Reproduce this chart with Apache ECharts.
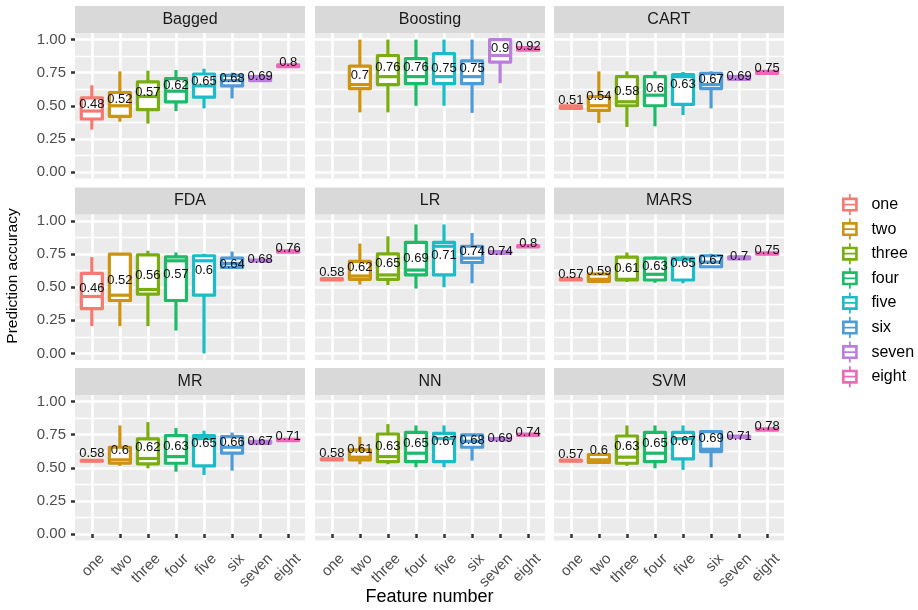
<!DOCTYPE html>
<html>
<head>
<meta charset="utf-8">
<script src="https://cdn.jsdelivr.net/npm/echarts@6/dist/echarts.min.js"></script>
<style>
  html, body { margin: 0; padding: 0; background: #ffffff; }
  #chart { width: 918px; height: 610px; }
</style>
</head>
<body>
<div id="chart"></div>
<script>
// Feature-count categories and the classifiers (one facet each)
const features = ['one', 'two', 'three', 'four', 'five', 'six', 'seven', 'eight'];
const methods = ['Bagged', 'Boosting', 'CART', 'FDA', 'LR', 'MARS', 'MR', 'NN', 'SVM'];
const yTicks = [0, 0.25, 0.5, 0.75, 1];
const yMinorTicks = [0.125, 0.375, 0.625, 0.875];

// Box statistics per feature: [lower whisker, Q1, median, Q3, upper whisker]
const boxBagged = [[0.32, 0.40, 0.46, 0.56, 0.655], [0.38, 0.42, 0.50, 0.60, 0.76], [0.365, 0.47, 0.57, 0.68, 0.765], [0.46, 0.53, 0.61, 0.705, 0.77], [0.48, 0.565, 0.65, 0.74, 0.78], [0.555, 0.65, 0.69, 0.73, 0.75], [0.69, 0.69, 0.70, 0.72, 0.72], [0.79, 0.795, 0.80, 0.81, 0.82]];
const boxBoosting = [null, [0.45, 0.63, 0.66, 0.80, 1.0], [0.45, 0.66, 0.72, 0.88, 1.0], [0.50, 0.667, 0.72, 0.856, 1.0], [0.50, 0.667, 0.72, 0.894, 1.0], [0.446, 0.667, 0.72, 0.84, 1.0], [0.67, 0.83, 0.88, 1.0, 1.0], [0.92, 0.92, 0.93, 0.94, 0.94]];
const boxCART = [[0.48, 0.48, 0.49, 0.50, 0.50], [0.37, 0.465, 0.50, 0.57, 0.76], [0.34, 0.50, 0.53, 0.72, 0.76], [0.345, 0.50, 0.58, 0.72, 0.76], [0.43, 0.51, 0.72, 0.735, 0.755], [0.48, 0.63, 0.66, 0.745, 0.76], [0.70, 0.70, 0.71, 0.72, 0.72], [0.74, 0.745, 0.75, 0.76, 0.76]];
const boxFDA = [[0.206, 0.338, 0.43, 0.605, 0.728], [0.206, 0.40, 0.44, 0.75, 0.753], [0.206, 0.448, 0.483, 0.745, 0.776], [0.173, 0.40, 0.70, 0.73, 0.763], [0.0, 0.44, 0.70, 0.738, 0.753], [0.64, 0.65, 0.68, 0.72, 0.77], [0.695, 0.70, 0.70, 0.705, 0.71], [0.76, 0.765, 0.77, 0.775, 0.78]];
const boxLR = [[0.55, 0.555, 0.56, 0.565, 0.57], [0.52, 0.56, 0.585, 0.695, 0.83], [0.517, 0.56, 0.593, 0.753, 0.885], [0.49, 0.593, 0.63, 0.84, 0.975], [0.50, 0.593, 0.81, 0.84, 0.975], [0.53, 0.687, 0.72, 0.81, 0.91], [0.75, 0.755, 0.76, 0.77, 0.775], [0.80, 0.805, 0.81, 0.815, 0.82]];
const boxMARS = [[0.555, 0.555, 0.56, 0.565, 0.57], [0.54, 0.545, 0.56, 0.60, 0.61], [0.54, 0.555, 0.56, 0.728, 0.763], [0.534, 0.555, 0.598, 0.72, 0.733], [0.53, 0.555, 0.71, 0.72, 0.738], [0.65, 0.655, 0.69, 0.738, 0.753], [0.71, 0.715, 0.72, 0.73, 0.735], [0.75, 0.75, 0.755, 0.76, 0.765]];
const boxMR = [[0.545, 0.55, 0.553, 0.556, 0.56], [0.514, 0.534, 0.56, 0.655, 0.82], [0.496, 0.53, 0.57, 0.718, 0.845], [0.47, 0.534, 0.584, 0.743, 0.80], [0.446, 0.514, 0.72, 0.743, 0.78], [0.478, 0.61, 0.655, 0.735, 0.766], [0.68, 0.685, 0.69, 0.70, 0.70], [0.70, 0.705, 0.71, 0.715, 0.72]];
const boxNN = [[0.555, 0.56, 0.564, 0.568, 0.572], [0.526, 0.56, 0.58, 0.635, 0.735], [0.526, 0.547, 0.584, 0.755, 0.83], [0.504, 0.547, 0.61, 0.768, 0.82], [0.504, 0.547, 0.72, 0.76, 0.82], [0.554, 0.655, 0.70, 0.748, 0.756], [0.705, 0.71, 0.715, 0.72, 0.725], [0.74, 0.745, 0.748, 0.755, 0.76]];
const boxSVM = [[0.545, 0.55, 0.554, 0.558, 0.562], [0.534, 0.54, 0.56, 0.60, 0.61], [0.514, 0.534, 0.58, 0.74, 0.82], [0.496, 0.547, 0.61, 0.768, 0.82], [0.484, 0.567, 0.72, 0.768, 0.82], [0.504, 0.622, 0.64, 0.773, 0.786], [0.725, 0.73, 0.735, 0.74, 0.745], [0.78, 0.785, 0.79, 0.795, 0.80]];

// Mean accuracy per feature (printed above each box)
const meanBagged = [0.48, 0.52, 0.57, 0.62, 0.65, 0.68, 0.69, 0.8];
const meanBoosting = [null, 0.7, 0.76, 0.76, 0.75, 0.75, 0.9, 0.92];
const meanCART = [0.51, 0.54, 0.58, 0.6, 0.63, 0.67, 0.69, 0.75];
const meanFDA = [0.46, 0.52, 0.56, 0.57, 0.6, 0.64, 0.68, 0.76];
const meanLR = [0.58, 0.62, 0.65, 0.69, 0.71, 0.74, 0.74, 0.8];
const meanMARS = [0.57, 0.59, 0.61, 0.63, 0.65, 0.67, 0.7, 0.75];
const meanMR = [0.58, 0.6, 0.62, 0.63, 0.65, 0.66, 0.67, 0.71];
const meanNN = [0.58, 0.61, 0.63, 0.65, 0.67, 0.68, 0.69, 0.74];
const meanSVM = [0.57, 0.6, 0.63, 0.65, 0.67, 0.69, 0.71, 0.78];

const boxStats = [boxBagged, boxBoosting, boxCART, boxFDA, boxLR, boxMARS, boxMR, boxNN, boxSVM];
const meanStats = [meanBagged, meanBoosting, meanCART, meanFDA, meanLR, meanMARS, meanMR, meanNN, meanSVM];

const palette = ['#F47A72', '#CC9410', '#7AAD12', '#1DBA6A', '#1CBCC6', '#4E9BD6', '#BB7EDC', '#EC68B8'];

// Facet layout (pixels)
const LAYOUT = { colLeft: [75, 315, 554], rowTop: [33, 214.5, 395], panelW: 230, panelH: 145.5, stripH: 27 };
const X_MIN = 0.4, X_MAX = 8.6;
const LABEL_SHIFT = 0.36;   // rotated tick labels hang right of their tick (hjust = 1, vjust = 1)
const BOX_WIDTH = 0.75;
const LINE_W = 3.2;
const FONT = '"Liberation Sans", Arial, Helvetica, sans-serif';
const tickPos = features.map((f, i) => i + 1);

function renderBox(params, api) {
  const x = api.value(0);
  const lo = api.coord([x, api.value(1)]);
  const q1 = api.coord([x, api.value(2)]);
  const med = api.coord([x, api.value(3)]);
  const q3 = api.coord([x, api.value(4)]);
  const hi = api.coord([x, api.value(5)]);
  const w = api.size([BOX_WIDTH, 0])[0];
  const color = api.visual('color');
  const stroke = { stroke: color, lineWidth: LINE_W, lineJoin: 'round', fill: null };
  return {
    type: 'group',
    children: [
      { type: 'line', shape: { x1: hi[0], y1: hi[1], x2: q3[0], y2: q3[1] }, style: stroke },
      { type: 'line', shape: { x1: q1[0], y1: q1[1], x2: lo[0], y2: lo[1] }, style: stroke },
      { type: 'rect', shape: { x: q3[0] - w / 2, y: q3[1], width: w, height: q1[1] - q3[1] },
        style: Object.assign({}, stroke, { fill: '#ffffff' }) },
      { type: 'line', shape: { x1: med[0] - w / 2, y1: med[1], x2: med[0] + w / 2, y2: med[1] }, style: stroke }
    ]
  };
}

function renderMeanLabel(params, api) {
  const p = api.coord([api.value(0), api.value(1)]);
  return {
    type: 'text',
    x: p[0],
    y: p[1] - 4,
    style: {
      text: String(api.value(1)),
      fill: '#111111',
      fontSize: 13,
      fontFamily: FONT,
      align: 'center',
      verticalAlign: 'middle'
    }
  };
}

const grid = [], xAxis = [], yAxis = [], series = [], graphic = [];

methods.forEach((name, i) => {
  const r = Math.floor(i / 3), c = i % 3;
  grid.push({
    left: LAYOUT.colLeft[c], top: LAYOUT.rowTop[r], width: LAYOUT.panelW, height: LAYOUT.panelH,
    show: true, backgroundColor: '#EBEBEB', borderWidth: 0,
    containLabel: false, outerBoundsMode: 'none'
  });
});

// x axes: index i = data axis of facet i; extra label-only axes for the bottom row
methods.forEach((name, i) => {
  const bottomRow = Math.floor(i / 3) === 2;
  xAxis.push({
    gridIndex: i, type: 'value', min: X_MIN, max: X_MAX, position: 'bottom',
    axisLine: { show: false },
    axisTick: { show: bottomRow, customValues: tickPos, length: 4, lineStyle: { color: '#333333', width: 2.5 } },
    axisLabel: { show: false, customValues: tickPos },
    splitLine: { show: true, lineStyle: { color: '#ffffff', width: 2.6 } }
  });
});
methods.forEach((name, i) => {
  if (Math.floor(i / 3) !== 2) return;
  xAxis.push({
    gridIndex: i, type: 'value', min: X_MIN - LABEL_SHIFT, max: X_MAX - LABEL_SHIFT, position: 'bottom',
    axisLine: { show: false },
    axisTick: { show: false, customValues: tickPos },
    axisLabel: {
      show: true, customValues: tickPos, rotate: 45, margin: 16,
      formatter: v => features[Math.round(v) - 1],
      color: '#4D4D4D', fontSize: 15, fontFamily: FONT
    },
    splitLine: { show: false }
  });
});

methods.forEach((name, i) => {
  const r = Math.floor(i / 3), c = i % 3;
  const left = LAYOUT.colLeft[c], top = LAYOUT.rowTop[r];
  const leftCol = c === 0;

  // major grid + tick labels
  yAxis.push({
    gridIndex: i, type: 'value', min: -0.05, max: 1.05, position: 'left',
    axisLine: { show: false },
    axisTick: { show: leftCol, customValues: yTicks, length: 4, lineStyle: { color: '#333333', width: 2.5 } },
    axisLabel: {
      show: leftCol, customValues: yTicks, margin: 9,
      formatter: v => v.toFixed(2),
      color: '#4D4D4D', fontSize: 15, fontFamily: FONT
    },
    splitLine: { show: true, lineStyle: { color: '#ffffff', width: 2.6 } }
  });
  // minor grid
  yAxis.push({
    gridIndex: i, type: 'value', min: -0.05, max: 1.05, position: 'right',
    axisLine: { show: false },
    axisTick: { show: false, customValues: yMinorTicks },
    axisLabel: { show: false, customValues: yMinorTicks },
    splitLine: { show: true, lineStyle: { color: '#ffffff', width: 1.4 } }
  });

  // facet strip
  graphic.push({
    type: 'rect', z: 0,
    shape: { x: left, y: top - LAYOUT.stripH, width: LAYOUT.panelW, height: LAYOUT.stripH },
    style: { fill: '#D9D9D9' }
  });
  graphic.push({
    type: 'text', z: 1,
    x: left + LAYOUT.panelW / 2, y: top - LAYOUT.stripH / 2,
    style: { text: name, fill: '#1A1A1A', fontSize: 16, fontFamily: FONT, align: 'center', verticalAlign: 'middle' }
  });

  // one boxplot series per feature count
  features.forEach((f, k) => {
    const b = boxStats[i][k];
    if (!b) return;
    series.push({
      type: 'custom', name: f, xAxisIndex: i, yAxisIndex: 2 * i,
      itemStyle: { color: palette[k] },
      renderItem: renderBox, clip: false, silent: true, z: 2,
      data: [[k + 1].concat(b)]
    });
  });

  // mean labels drawn over all boxes of the facet
  series.push({
    type: 'custom', xAxisIndex: i, yAxisIndex: 2 * i,
    renderItem: renderMeanLabel, clip: false, silent: true, z: 5,
    data: meanStats[i].map((m, k) => (m == null ? null : [k + 1, m])).filter(d => d)
  });
});

// axis titles
graphic.push({
  type: 'text', x: 429.5, y: 597,
  style: { text: 'Feature number', fill: '#000000', fontSize: 18, fontFamily: FONT, align: 'center', verticalAlign: 'middle' }
});
graphic.push({
  type: 'text', x: 13, y: 276, rotation: Math.PI / 2,
  style: { text: 'Prediction accuracy', fill: '#000000', fontSize: 15.5, fontFamily: FONT, align: 'center', verticalAlign: 'middle' }
});

// boxplot glyph for legend keys (outlined box with median and whisker stubs)
const BOX_ICON = 'path://M9,0 L11,0 L11,4 L9,4 Z M1,4 L19,4 L19,20 L1,20 Z M4,7 L4,11 L16,11 L16,7 Z M4,13 L4,17 L16,17 L16,13 Z M9,20 L11,20 L11,24 L9,24 Z';

const chart = echarts.init(document.getElementById('chart'), null, { renderer: 'canvas' });
chart.setOption({
  animation: false,
  backgroundColor: '#ffffff',
  grid: grid,
  xAxis: xAxis,
  yAxis: yAxis,
  graphic: graphic,
  legend: {
    orient: 'vertical', left: 837, top: 189,
    itemWidth: 17, itemHeight: 21, itemGap: 3.6,
    selectedMode: false,
    textStyle: { color: '#000000', fontSize: 16, fontFamily: FONT, padding: [0, 0, 0, 8] },
    data: features.map(f => ({ name: f, icon: BOX_ICON }))
  },
  series: series
});
</script>
</body>
</html>
